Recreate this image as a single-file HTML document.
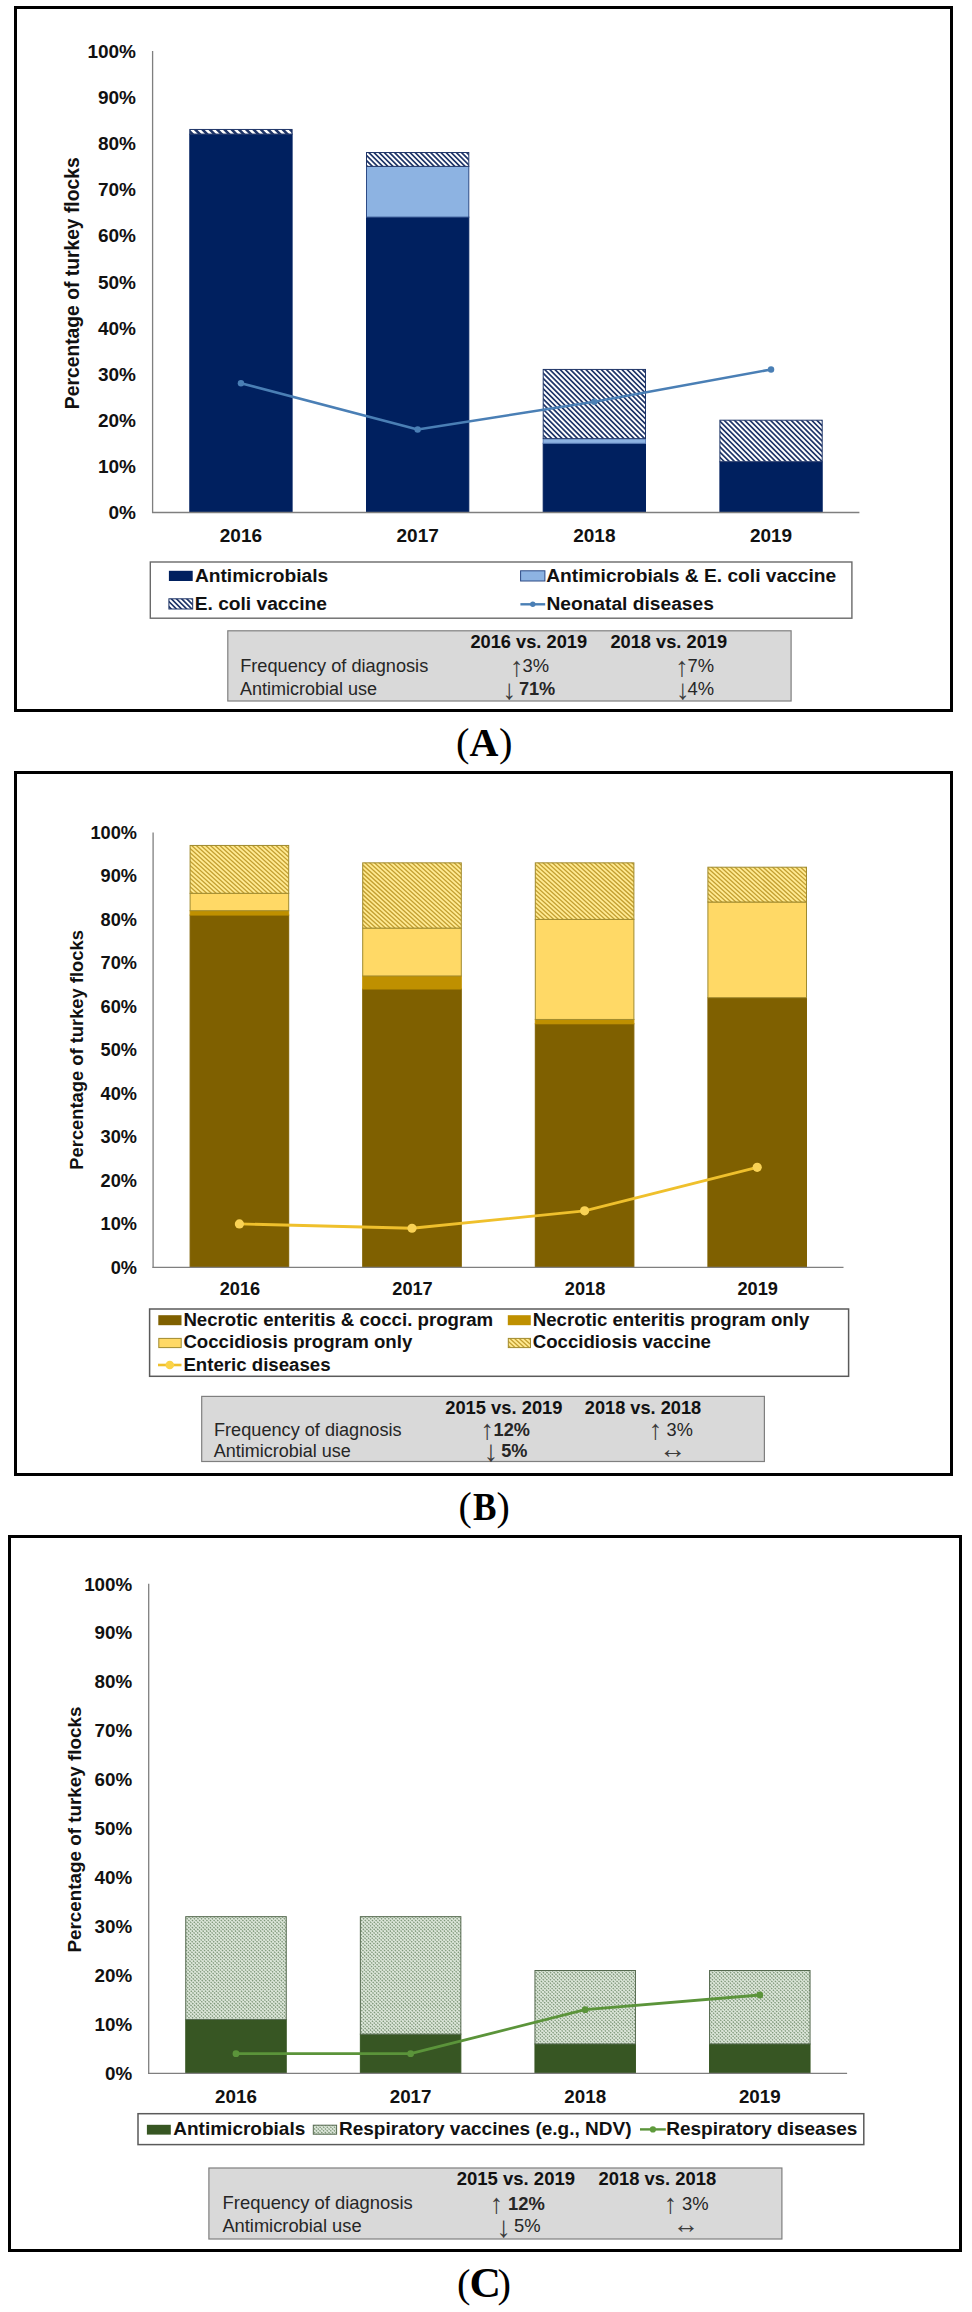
<!DOCTYPE html>
<html lang="en"><head><meta charset="utf-8"><title>Figure</title>
<style>
html,body{margin:0;padding:0;background:#fff;}
body{width:972px;height:2312px;overflow:hidden;}
svg{display:block;}
text{white-space:pre;}
</style></head><body>
<svg width="972" height="2312" viewBox="0 0 972 2312">

<rect width="972" height="2312" fill="#ffffff"/>

<rect x="15.50" y="7.50" width="936.00" height="703.00" fill="#fff" stroke="#000" stroke-width="3" />
<text x="136.00" y="519.30" font-family='"Liberation Sans", Arial, Helvetica, sans-serif' font-size="19" font-weight="bold" text-anchor="end" fill="#111111" >0%</text>
<text x="136.00" y="473.15" font-family='"Liberation Sans", Arial, Helvetica, sans-serif' font-size="19" font-weight="bold" text-anchor="end" fill="#111111" >10%</text>
<text x="136.00" y="427.00" font-family='"Liberation Sans", Arial, Helvetica, sans-serif' font-size="19" font-weight="bold" text-anchor="end" fill="#111111" >20%</text>
<text x="136.00" y="380.85" font-family='"Liberation Sans", Arial, Helvetica, sans-serif' font-size="19" font-weight="bold" text-anchor="end" fill="#111111" >30%</text>
<text x="136.00" y="334.70" font-family='"Liberation Sans", Arial, Helvetica, sans-serif' font-size="19" font-weight="bold" text-anchor="end" fill="#111111" >40%</text>
<text x="136.00" y="288.55" font-family='"Liberation Sans", Arial, Helvetica, sans-serif' font-size="19" font-weight="bold" text-anchor="end" fill="#111111" >50%</text>
<text x="136.00" y="242.40" font-family='"Liberation Sans", Arial, Helvetica, sans-serif' font-size="19" font-weight="bold" text-anchor="end" fill="#111111" >60%</text>
<text x="136.00" y="196.25" font-family='"Liberation Sans", Arial, Helvetica, sans-serif' font-size="19" font-weight="bold" text-anchor="end" fill="#111111" >70%</text>
<text x="136.00" y="150.10" font-family='"Liberation Sans", Arial, Helvetica, sans-serif' font-size="19" font-weight="bold" text-anchor="end" fill="#111111" >80%</text>
<text x="136.00" y="103.95" font-family='"Liberation Sans", Arial, Helvetica, sans-serif' font-size="19" font-weight="bold" text-anchor="end" fill="#111111" >90%</text>
<text x="136.00" y="57.80" font-family='"Liberation Sans", Arial, Helvetica, sans-serif' font-size="19" font-weight="bold" text-anchor="end" fill="#111111" >100%</text>
<text x="0.00" y="0.00" font-family='"Liberation Sans", Arial, Helvetica, sans-serif' font-size="19.3" font-weight="bold" text-anchor="middle" fill="#111111" transform="translate(79.00,283.25) rotate(-90)">Percentage of turkey flocks</text>
<rect x="189.80" y="134.07" width="102.30" height="378.43" fill="#00205f" stroke="#00205f" stroke-width="1" />
<clipPath id="c1"><rect x="189.80" y="129.46" width="102.30" height="4.62"/></clipPath>
<rect x="189.80" y="129.46" width="102.30" height="4.62" fill="#ffffff"/>
<path d="M171.26 127.46L179.87 136.07M178.56 127.46L187.17 136.07M185.86 127.46L194.47 136.07M193.16 127.46L201.77 136.07M200.46 127.46L209.07 136.07M207.76 127.46L216.37 136.07M215.06 127.46L223.67 136.07M222.36 127.46L230.97 136.07M229.66 127.46L238.27 136.07M236.96 127.46L245.57 136.07M244.26 127.46L252.87 136.07M251.56 127.46L260.17 136.07M258.86 127.46L267.47 136.07M266.16 127.46L274.77 136.07M273.46 127.46L282.07 136.07M280.76 127.46L289.37 136.07M288.06 127.46L296.67 136.07M295.36 127.46L303.97 136.07M302.66 127.46L311.27 136.07" stroke="#1f3568" stroke-width="2.58" fill="none" clip-path="url(#c1)"/>
<rect x="189.80" y="129.46" width="102.30" height="4.62" fill="none" stroke="#1f3568" stroke-width="1"/>
<rect x="366.50" y="217.14" width="102.30" height="295.36" fill="#00205f" stroke="#00205f" stroke-width="1" />
<rect x="366.50" y="166.38" width="102.30" height="50.77" fill="#8db3e2" stroke="#2c4a86" stroke-width="1" />
<clipPath id="c2"><rect x="366.50" y="152.53" width="102.30" height="13.84"/></clipPath>
<rect x="366.50" y="152.53" width="102.30" height="13.84" fill="#ffffff"/>
<path d="M341.08 150.53L358.93 168.38M346.23 150.53L364.08 168.38M351.38 150.53L369.23 168.38M356.53 150.53L374.38 168.38M361.68 150.53L379.53 168.38M366.83 150.53L384.68 168.38M371.98 150.53L389.83 168.38M377.13 150.53L394.98 168.38M382.28 150.53L400.13 168.38M387.43 150.53L405.28 168.38M392.58 150.53L410.43 168.38M397.73 150.53L415.58 168.38M402.88 150.53L420.73 168.38M408.03 150.53L425.88 168.38M413.18 150.53L431.03 168.38M418.33 150.53L436.18 168.38M423.48 150.53L441.33 168.38M428.63 150.53L446.48 168.38M433.78 150.53L451.63 168.38M438.93 150.53L456.78 168.38M444.08 150.53L461.93 168.38M449.23 150.53L467.08 168.38M454.38 150.53L472.23 168.38M459.53 150.53L477.38 168.38M464.68 150.53L482.53 168.38M469.83 150.53L487.68 168.38M474.98 150.53L492.83 168.38" stroke="#1f3568" stroke-width="1.71" fill="none" clip-path="url(#c2)"/>
<rect x="366.50" y="152.53" width="102.30" height="13.84" fill="none" stroke="#1f3568" stroke-width="1"/>
<rect x="543.20" y="443.27" width="102.30" height="69.22" fill="#00205f" stroke="#00205f" stroke-width="1" />
<rect x="543.20" y="438.66" width="102.30" height="4.62" fill="#8db3e2" stroke="#5f83bd" stroke-width="1" />
<clipPath id="c3"><rect x="543.20" y="369.44" width="102.30" height="69.22"/></clipPath>
<rect x="543.20" y="369.44" width="102.30" height="69.22" fill="#ffffff"/>
<path d="M465.28 367.44L538.51 440.66M470.44 367.44L543.66 440.66M475.58 367.44L548.81 440.66M480.74 367.44L553.96 440.66M485.88 367.44L559.11 440.66M491.03 367.44L564.26 440.66M496.19 367.44L569.41 440.66M501.33 367.44L574.56 440.66M506.49 367.44L579.71 440.66M511.63 367.44L584.86 440.66M516.78 367.44L590.01 440.66M521.93 367.44L595.16 440.66M527.09 367.44L600.31 440.66M532.24 367.44L605.46 440.66M537.38 367.44L610.61 440.66M542.53 367.44L615.76 440.66M547.68 367.44L620.91 440.66M552.84 367.44L626.06 440.66M557.99 367.44L631.21 440.66M563.13 367.44L636.36 440.66M568.28 367.44L641.51 440.66M573.43 367.44L646.66 440.66M578.59 367.44L651.81 440.66M583.74 367.44L656.96 440.66M588.88 367.44L662.11 440.66M594.03 367.44L667.26 440.66M599.18 367.44L672.41 440.66M604.34 367.44L677.56 440.66M609.49 367.44L682.71 440.66M614.63 367.44L687.86 440.66M619.78 367.44L693.01 440.66M624.94 367.44L698.16 440.66M630.09 367.44L703.31 440.66M635.24 367.44L708.46 440.66M640.38 367.44L713.61 440.66M645.53 367.44L718.76 440.66M650.69 367.44L723.91 440.66" stroke="#1f3568" stroke-width="1.71" fill="none" clip-path="url(#c3)"/>
<rect x="543.20" y="369.44" width="102.30" height="69.22" fill="none" stroke="#1f3568" stroke-width="1"/>
<rect x="719.90" y="461.74" width="102.30" height="50.77" fill="#00205f" stroke="#00205f" stroke-width="1" />
<clipPath id="c4"><rect x="719.90" y="420.20" width="102.30" height="41.53"/></clipPath>
<rect x="719.90" y="420.20" width="102.30" height="41.53" fill="#ffffff"/>
<path d="M670.55 418.20L716.09 463.74M675.70 418.20L721.24 463.74M680.85 418.20L726.38 463.74M686.00 418.20L731.53 463.74M691.15 418.20L736.68 463.74M696.30 418.20L741.84 463.74M701.45 418.20L746.99 463.74M706.60 418.20L752.13 463.74M711.75 418.20L757.28 463.74M716.90 418.20L762.43 463.74M722.05 418.20L767.59 463.74M727.20 418.20L772.74 463.74M732.35 418.20L777.88 463.74M737.50 418.20L783.03 463.74M742.65 418.20L788.18 463.74M747.80 418.20L793.34 463.74M752.95 418.20L798.49 463.74M758.10 418.20L803.63 463.74M763.25 418.20L808.78 463.74M768.40 418.20L813.93 463.74M773.55 418.20L819.09 463.74M778.70 418.20L824.24 463.74M783.85 418.20L829.38 463.74M789.00 418.20L834.53 463.74M794.15 418.20L839.68 463.74M799.30 418.20L844.84 463.74M804.45 418.20L849.99 463.74M809.60 418.20L855.13 463.74M814.75 418.20L860.28 463.74M819.90 418.20L865.43 463.74M825.05 418.20L870.59 463.74M830.20 418.20L875.74 463.74" stroke="#1f3568" stroke-width="1.71" fill="none" clip-path="url(#c4)"/>
<rect x="719.90" y="420.20" width="102.30" height="41.53" fill="none" stroke="#1f3568" stroke-width="1"/>
<line x1="152.60" y1="51.00" x2="152.60" y2="513.10" stroke="#7f7f7f" stroke-width="1.3" />
<line x1="152.00" y1="512.50" x2="859.40" y2="512.50" stroke="#7f7f7f" stroke-width="1.3" />
<text x="240.95" y="542.00" font-family='"Liberation Sans", Arial, Helvetica, sans-serif' font-size="19" font-weight="bold" text-anchor="middle" fill="#111111" >2016</text>
<text x="417.65" y="542.00" font-family='"Liberation Sans", Arial, Helvetica, sans-serif' font-size="19" font-weight="bold" text-anchor="middle" fill="#111111" >2017</text>
<text x="594.35" y="542.00" font-family='"Liberation Sans", Arial, Helvetica, sans-serif' font-size="19" font-weight="bold" text-anchor="middle" fill="#111111" >2018</text>
<text x="771.05" y="542.00" font-family='"Liberation Sans", Arial, Helvetica, sans-serif' font-size="19" font-weight="bold" text-anchor="middle" fill="#111111" >2019</text>
<polyline points="240.95,383.28 417.65,429.43 594.35,401.74 771.05,369.44" fill="none" stroke="#4a7fb5" stroke-width="2.6" stroke-linejoin="round" stroke-linecap="round"/>
<circle cx="240.95" cy="383.28" r="3.2" fill="#4a7fb5"/>
<circle cx="417.65" cy="429.43" r="3.2" fill="#4a7fb5"/>
<circle cx="594.35" cy="401.74" r="3.2" fill="#4a7fb5"/>
<circle cx="771.05" cy="369.44" r="3.2" fill="#4a7fb5"/>
<rect x="150.30" y="562.00" width="701.60" height="56.20" fill="#fff" stroke="#6a6a6a" stroke-width="1.4" />
<rect x="168.90" y="570.80" width="23.80" height="10.20" fill="#00205f" stroke="none" stroke-width="1" />
<text x="194.90" y="582.00" font-family='"Liberation Sans", Arial, Helvetica, sans-serif' font-size="19.2" font-weight="bold" text-anchor="start" fill="#111111" >Antimicrobials</text>
<clipPath id="c5"><rect x="168.90" y="598.80" width="23.80" height="10.20"/></clipPath>
<rect x="168.90" y="598.80" width="23.80" height="10.20" fill="#ffffff"/>
<path d="M148.75 596.80L162.95 611.00M153.90 596.80L168.10 611.00M159.05 596.80L173.25 611.00M164.20 596.80L178.40 611.00M169.35 596.80L183.55 611.00M174.50 596.80L188.70 611.00M179.65 596.80L193.85 611.00M184.80 596.80L199.00 611.00M189.95 596.80L204.15 611.00M195.10 596.80L209.30 611.00M200.25 596.80L214.45 611.00" stroke="#1f3568" stroke-width="1.71" fill="none" clip-path="url(#c5)"/>
<rect x="168.90" y="598.80" width="23.80" height="10.20" fill="none" stroke="#1f3568" stroke-width="1"/>
<text x="194.70" y="610.00" font-family='"Liberation Sans", Arial, Helvetica, sans-serif' font-size="19.2" font-weight="bold" text-anchor="start" fill="#111111" >E. coli vaccine</text>
<rect x="520.60" y="570.80" width="24.30" height="10.20" fill="#8db3e2" stroke="#2c4a86" stroke-width="1" />
<text x="546.20" y="582.00" font-family='"Liberation Sans", Arial, Helvetica, sans-serif' font-size="19.2" font-weight="bold" text-anchor="start" fill="#111111" >Antimicrobials &amp; E. coli vaccine</text>
<line x1="520.40" y1="604.30" x2="545.20" y2="604.30" stroke="#4a7fb5" stroke-width="2.4" />
<circle cx="532.8" cy="604.3" r="2.7" fill="#4a7fb5"/>
<text x="546.40" y="610.00" font-family='"Liberation Sans", Arial, Helvetica, sans-serif' font-size="19.2" font-weight="bold" text-anchor="start" fill="#111111" >Neonatal diseases</text>
<rect x="227.80" y="630.80" width="563.30" height="70.20" fill="#d9d9d9" stroke="#7f7f7f" stroke-width="1.2" />
<text x="470.40" y="648.00" font-family='"Liberation Sans", Arial, Helvetica, sans-serif' font-size="18.25" font-weight="bold" text-anchor="start" fill="#111111" >2016 vs. 2019</text>
<text x="610.40" y="648.00" font-family='"Liberation Sans", Arial, Helvetica, sans-serif' font-size="18.25" font-weight="bold" text-anchor="start" fill="#111111" >2018 vs. 2019</text>
<text x="240.20" y="672.00" font-family='"Liberation Sans", Arial, Helvetica, sans-serif' font-size="18.2" font-weight="normal" text-anchor="start" fill="#262626" >Frequency of diagnosis</text>
<text x="240.00" y="695.00" font-family='"Liberation Sans", Arial, Helvetica, sans-serif' font-size="18.0" font-weight="normal" text-anchor="start" fill="#262626" >Antimicrobial use</text>
<text x="516.80" y="675.70" font-family='"Liberation Sans", Arial, Helvetica, sans-serif' font-size="27.50" text-anchor="middle" fill="#3c3c3c">↑</text>
<text x="522.60" y="672.00" font-family='"Liberation Sans", Arial, Helvetica, sans-serif' font-size="18.4" font-weight="normal" text-anchor="start" fill="#262626" >3%</text>
<text x="509.40" y="699.20" font-family='"Liberation Sans", Arial, Helvetica, sans-serif' font-size="27.86" text-anchor="middle" fill="#3c3c3c">↓</text>
<text x="518.90" y="695.00" font-family='"Liberation Sans", Arial, Helvetica, sans-serif' font-size="18.2" font-weight="bold" text-anchor="start" fill="#262626" >71%</text>
<text x="682.00" y="675.70" font-family='"Liberation Sans", Arial, Helvetica, sans-serif' font-size="27.50" text-anchor="middle" fill="#3c3c3c">↑</text>
<text x="687.60" y="672.00" font-family='"Liberation Sans", Arial, Helvetica, sans-serif' font-size="18.4" font-weight="normal" text-anchor="start" fill="#262626" >7%</text>
<text x="683.00" y="699.20" font-family='"Liberation Sans", Arial, Helvetica, sans-serif' font-size="27.86" text-anchor="middle" fill="#3c3c3c">↓</text>
<text x="687.60" y="695.00" font-family='"Liberation Sans", Arial, Helvetica, sans-serif' font-size="18.4" font-weight="normal" text-anchor="start" fill="#262626" >4%</text>
<text x="456.02" y="756.28" font-family='"Liberation Serif", "Times New Roman", serif' font-size="40.48" fill="#000">(</text>
<text x="498.90" y="756.28" font-family='"Liberation Serif", "Times New Roman", serif' font-size="40.48" fill="#000">)</text>
<text transform="translate(469.61,755.60) scale(0.9781,1)" font-family='"Liberation Serif", "Times New Roman", serif' font-size="40.90" font-weight="bold" fill="#000">A</text>
<rect x="15.50" y="772.50" width="936.00" height="702.00" fill="#fff" stroke="#000" stroke-width="3" />
<text x="137.00" y="1273.92" font-family='"Liberation Sans", Arial, Helvetica, sans-serif' font-size="18.2" font-weight="bold" text-anchor="end" fill="#111111" >0%</text>
<text x="137.00" y="1230.42" font-family='"Liberation Sans", Arial, Helvetica, sans-serif' font-size="18.2" font-weight="bold" text-anchor="end" fill="#111111" >10%</text>
<text x="137.00" y="1186.92" font-family='"Liberation Sans", Arial, Helvetica, sans-serif' font-size="18.2" font-weight="bold" text-anchor="end" fill="#111111" >20%</text>
<text x="137.00" y="1143.42" font-family='"Liberation Sans", Arial, Helvetica, sans-serif' font-size="18.2" font-weight="bold" text-anchor="end" fill="#111111" >30%</text>
<text x="137.00" y="1099.92" font-family='"Liberation Sans", Arial, Helvetica, sans-serif' font-size="18.2" font-weight="bold" text-anchor="end" fill="#111111" >40%</text>
<text x="137.00" y="1056.42" font-family='"Liberation Sans", Arial, Helvetica, sans-serif' font-size="18.2" font-weight="bold" text-anchor="end" fill="#111111" >50%</text>
<text x="137.00" y="1012.92" font-family='"Liberation Sans", Arial, Helvetica, sans-serif' font-size="18.2" font-weight="bold" text-anchor="end" fill="#111111" >60%</text>
<text x="137.00" y="969.42" font-family='"Liberation Sans", Arial, Helvetica, sans-serif' font-size="18.2" font-weight="bold" text-anchor="end" fill="#111111" >70%</text>
<text x="137.00" y="925.92" font-family='"Liberation Sans", Arial, Helvetica, sans-serif' font-size="18.2" font-weight="bold" text-anchor="end" fill="#111111" >80%</text>
<text x="137.00" y="882.42" font-family='"Liberation Sans", Arial, Helvetica, sans-serif' font-size="18.2" font-weight="bold" text-anchor="end" fill="#111111" >90%</text>
<text x="137.00" y="838.92" font-family='"Liberation Sans", Arial, Helvetica, sans-serif' font-size="18.2" font-weight="bold" text-anchor="end" fill="#111111" >100%</text>
<text x="0.00" y="0.00" font-family='"Liberation Sans", Arial, Helvetica, sans-serif' font-size="18.35" font-weight="bold" text-anchor="middle" fill="#111111" transform="translate(83.30,1049.90) rotate(-90)">Percentage of turkey flocks</text>
<rect x="190.10" y="915.05" width="98.60" height="352.35" fill="#7f6000" stroke="#7f6000" stroke-width="1" />
<rect x="190.10" y="910.70" width="98.60" height="4.35" fill="#bf9000" stroke="#bf9000" stroke-width="1" />
<rect x="190.10" y="893.30" width="98.60" height="17.40" fill="#ffd966" stroke="#a08a2e" stroke-width="1" />
<clipPath id="c6"><rect x="190.10" y="845.45" width="98.60" height="47.85"/></clipPath>
<rect x="190.10" y="845.45" width="98.60" height="47.85" fill="#ffea92"/>
<path d="M128.51 843.45L185.60 895.30M133.19 843.45L190.28 895.30M137.87 843.45L194.96 895.30M142.55 843.45L199.64 895.30M147.23 843.45L204.32 895.30M151.91 843.45L209.00 895.30M156.59 843.45L213.68 895.30M161.27 843.45L218.36 895.30M165.95 843.45L223.04 895.30M170.63 843.45L227.72 895.30M175.31 843.45L232.40 895.30M179.99 843.45L237.08 895.30M184.67 843.45L241.76 895.30M189.35 843.45L246.44 895.30M194.03 843.45L251.12 895.30M198.71 843.45L255.80 895.30M203.39 843.45L260.48 895.30M208.07 843.45L265.16 895.30M212.75 843.45L269.84 895.30M217.43 843.45L274.52 895.30M222.11 843.45L279.20 895.30M226.79 843.45L283.88 895.30M231.47 843.45L288.56 895.30M236.15 843.45L293.24 895.30M240.83 843.45L297.92 895.30M245.51 843.45L302.60 895.30M250.19 843.45L307.28 895.30M254.87 843.45L311.96 895.30M259.55 843.45L316.64 895.30M264.23 843.45L321.32 895.30M268.91 843.45L326.00 895.30M273.59 843.45L330.68 895.30M278.27 843.45L335.36 895.30M282.95 843.45L340.04 895.30M287.63 843.45L344.72 895.30M292.31 843.45L349.40 895.30" stroke="#c4a032" stroke-width="1.32" fill="none" clip-path="url(#c6)"/>
<rect x="190.10" y="845.45" width="98.60" height="47.85" fill="none" stroke="#a08a2e" stroke-width="1"/>
<rect x="362.70" y="989.00" width="98.60" height="278.40" fill="#7f6000" stroke="#7f6000" stroke-width="1" />
<rect x="362.70" y="975.95" width="98.60" height="13.05" fill="#bf9000" stroke="#bf9000" stroke-width="1" />
<rect x="362.70" y="928.10" width="98.60" height="47.85" fill="#ffd966" stroke="#a08a2e" stroke-width="1" />
<clipPath id="c7"><rect x="362.70" y="862.85" width="98.60" height="65.25"/></clipPath>
<rect x="362.70" y="862.85" width="98.60" height="65.25" fill="#ffea92"/>
<path d="M283.39 860.85L359.64 930.10M288.07 860.85L364.32 930.10M292.75 860.85L369.00 930.10M297.43 860.85L373.68 930.10M302.11 860.85L378.36 930.10M306.79 860.85L383.04 930.10M311.47 860.85L387.72 930.10M316.15 860.85L392.40 930.10M320.83 860.85L397.08 930.10M325.51 860.85L401.76 930.10M330.19 860.85L406.44 930.10M334.87 860.85L411.12 930.10M339.55 860.85L415.80 930.10M344.23 860.85L420.48 930.10M348.91 860.85L425.16 930.10M353.59 860.85L429.84 930.10M358.27 860.85L434.52 930.10M362.95 860.85L439.20 930.10M367.63 860.85L443.88 930.10M372.31 860.85L448.56 930.10M376.99 860.85L453.24 930.10M381.67 860.85L457.92 930.10M386.35 860.85L462.60 930.10M391.03 860.85L467.28 930.10M395.71 860.85L471.96 930.10M400.39 860.85L476.64 930.10M405.07 860.85L481.32 930.10M409.75 860.85L486.00 930.10M414.43 860.85L490.68 930.10M419.11 860.85L495.36 930.10M423.79 860.85L500.04 930.10M428.47 860.85L504.72 930.10M433.15 860.85L509.40 930.10M437.83 860.85L514.08 930.10M442.51 860.85L518.76 930.10M447.19 860.85L523.44 930.10M451.87 860.85L528.12 930.10M456.55 860.85L532.80 930.10M461.23 860.85L537.48 930.10M465.91 860.85L542.16 930.10" stroke="#c4a032" stroke-width="1.32" fill="none" clip-path="url(#c7)"/>
<rect x="362.70" y="862.85" width="98.60" height="65.25" fill="none" stroke="#a08a2e" stroke-width="1"/>
<rect x="535.30" y="1023.80" width="98.60" height="243.60" fill="#7f6000" stroke="#7f6000" stroke-width="1" />
<rect x="535.30" y="1019.45" width="98.60" height="4.35" fill="#bf9000" stroke="#bf9000" stroke-width="1" />
<rect x="535.30" y="919.40" width="98.60" height="100.05" fill="#ffd966" stroke="#a08a2e" stroke-width="1" />
<clipPath id="c8"><rect x="535.30" y="862.85" width="98.60" height="56.55"/></clipPath>
<rect x="535.30" y="862.85" width="98.60" height="56.55" fill="#ffea92"/>
<path d="M465.91 860.85L532.58 921.40M470.59 860.85L537.26 921.40M475.27 860.85L541.94 921.40M479.95 860.85L546.62 921.40M484.63 860.85L551.30 921.40M489.31 860.85L555.98 921.40M493.99 860.85L560.66 921.40M498.67 860.85L565.34 921.40M503.35 860.85L570.02 921.40M508.03 860.85L574.70 921.40M512.71 860.85L579.38 921.40M517.39 860.85L584.06 921.40M522.07 860.85L588.74 921.40M526.75 860.85L593.42 921.40M531.43 860.85L598.10 921.40M536.11 860.85L602.78 921.40M540.79 860.85L607.46 921.40M545.47 860.85L612.14 921.40M550.15 860.85L616.82 921.40M554.83 860.85L621.50 921.40M559.51 860.85L626.18 921.40M564.19 860.85L630.86 921.40M568.87 860.85L635.54 921.40M573.55 860.85L640.22 921.40M578.23 860.85L644.90 921.40M582.91 860.85L649.58 921.40M587.59 860.85L654.26 921.40M592.27 860.85L658.94 921.40M596.95 860.85L663.62 921.40M601.63 860.85L668.30 921.40M606.31 860.85L672.98 921.40M610.99 860.85L677.66 921.40M615.67 860.85L682.34 921.40M620.35 860.85L687.02 921.40M625.03 860.85L691.70 921.40M629.71 860.85L696.38 921.40M634.39 860.85L701.06 921.40M639.07 860.85L705.74 921.40" stroke="#c4a032" stroke-width="1.32" fill="none" clip-path="url(#c8)"/>
<rect x="535.30" y="862.85" width="98.60" height="56.55" fill="none" stroke="#a08a2e" stroke-width="1"/>
<rect x="707.90" y="997.70" width="98.60" height="269.70" fill="#7f6000" stroke="#7f6000" stroke-width="1" />
<rect x="707.90" y="902.00" width="98.60" height="95.70" fill="#ffd966" stroke="#a08a2e" stroke-width="1" />
<clipPath id="c9"><rect x="707.90" y="867.20" width="98.60" height="34.80"/></clipPath>
<rect x="707.90" y="867.20" width="98.60" height="34.80" fill="#ffea92"/>
<path d="M662.58 865.20L705.30 904.00M667.26 865.20L709.98 904.00M671.94 865.20L714.66 904.00M676.62 865.20L719.34 904.00M681.30 865.20L724.02 904.00M685.98 865.20L728.70 904.00M690.66 865.20L733.38 904.00M695.34 865.20L738.06 904.00M700.02 865.20L742.74 904.00M704.70 865.20L747.42 904.00M709.38 865.20L752.10 904.00M714.06 865.20L756.78 904.00M718.74 865.20L761.46 904.00M723.42 865.20L766.14 904.00M728.10 865.20L770.82 904.00M732.78 865.20L775.50 904.00M737.46 865.20L780.18 904.00M742.14 865.20L784.86 904.00M746.82 865.20L789.54 904.00M751.50 865.20L794.22 904.00M756.18 865.20L798.90 904.00M760.86 865.20L803.58 904.00M765.54 865.20L808.26 904.00M770.22 865.20L812.94 904.00M774.90 865.20L817.62 904.00M779.58 865.20L822.30 904.00M784.26 865.20L826.98 904.00M788.94 865.20L831.66 904.00M793.62 865.20L836.34 904.00M798.30 865.20L841.02 904.00M802.98 865.20L845.70 904.00M807.66 865.20L850.38 904.00M812.34 865.20L855.06 904.00" stroke="#c4a032" stroke-width="1.32" fill="none" clip-path="url(#c9)"/>
<rect x="707.90" y="867.20" width="98.60" height="34.80" fill="none" stroke="#a08a2e" stroke-width="1"/>
<line x1="153.10" y1="832.40" x2="153.10" y2="1268.00" stroke="#7f7f7f" stroke-width="1.3" />
<line x1="152.50" y1="1267.40" x2="843.50" y2="1267.40" stroke="#7f7f7f" stroke-width="1.3" />
<text x="239.90" y="1295.00" font-family='"Liberation Sans", Arial, Helvetica, sans-serif' font-size="18.2" font-weight="bold" text-anchor="middle" fill="#111111" >2016</text>
<text x="412.50" y="1295.00" font-family='"Liberation Sans", Arial, Helvetica, sans-serif' font-size="18.2" font-weight="bold" text-anchor="middle" fill="#111111" >2017</text>
<text x="585.10" y="1295.00" font-family='"Liberation Sans", Arial, Helvetica, sans-serif' font-size="18.2" font-weight="bold" text-anchor="middle" fill="#111111" >2018</text>
<text x="757.70" y="1295.00" font-family='"Liberation Sans", Arial, Helvetica, sans-serif' font-size="18.2" font-weight="bold" text-anchor="middle" fill="#111111" >2019</text>
<polyline points="239.40,1223.90 412.00,1228.25 584.60,1210.85 757.20,1167.35" fill="none" stroke="#efc02c" stroke-width="2.8" stroke-linejoin="round" stroke-linecap="round"/>
<circle cx="239.40" cy="1223.90" r="4.6" fill="#f9d255"/>
<circle cx="412.00" cy="1228.25" r="4.6" fill="#f9d255"/>
<circle cx="584.60" cy="1210.85" r="4.6" fill="#f9d255"/>
<circle cx="757.20" cy="1167.35" r="4.6" fill="#f9d255"/>
<rect x="149.60" y="1309.00" width="699.00" height="67.30" fill="#fff" stroke="#5a5a5a" stroke-width="1.5" />
<rect x="158.30" y="1315.20" width="23.20" height="10.00" fill="#7f6000" stroke="none" stroke-width="1" />
<text x="183.40" y="1326.00" font-family='"Liberation Sans", Arial, Helvetica, sans-serif' font-size="18.65" font-weight="bold" text-anchor="start" fill="#111111" >Necrotic enteritis &amp; cocci. program</text>
<rect x="158.80" y="1338.40" width="22.40" height="9.20" fill="#ffd966" stroke="#a08a2e" stroke-width="1" />
<text x="183.40" y="1348.00" font-family='"Liberation Sans", Arial, Helvetica, sans-serif' font-size="18.65" font-weight="bold" text-anchor="start" fill="#111111" >Coccidiosis program only</text>
<line x1="158.00" y1="1365.00" x2="181.50" y2="1365.00" stroke="#efc02c" stroke-width="2.6" />
<circle cx="169.8" cy="1365" r="4.3" fill="#fbd348"/>
<text x="183.40" y="1371.00" font-family='"Liberation Sans", Arial, Helvetica, sans-serif' font-size="18.65" font-weight="bold" text-anchor="start" fill="#111111" >Enteric diseases</text>
<rect x="507.80" y="1315.20" width="23.00" height="10.00" fill="#bf9000" stroke="none" stroke-width="1" />
<text x="532.70" y="1326.00" font-family='"Liberation Sans", Arial, Helvetica, sans-serif' font-size="18.65" font-weight="bold" text-anchor="start" fill="#111111" >Necrotic enteritis program only</text>
<clipPath id="c10"><rect x="508.30" y="1338.40" width="22.20" height="9.20"/></clipPath>
<rect x="508.30" y="1338.40" width="22.20" height="9.20" fill="#ffea92"/>
<path d="M488.81 1336.40L503.35 1349.60M493.49 1336.40L508.03 1349.60M498.17 1336.40L512.71 1349.60M502.85 1336.40L517.39 1349.60M507.53 1336.40L522.07 1349.60M512.21 1336.40L526.75 1349.60M516.89 1336.40L531.43 1349.60M521.57 1336.40L536.11 1349.60M526.25 1336.40L540.79 1349.60M530.93 1336.40L545.47 1349.60M535.61 1336.40L550.15 1349.60" stroke="#c4a032" stroke-width="1.32" fill="none" clip-path="url(#c10)"/>
<rect x="508.30" y="1338.40" width="22.20" height="9.20" fill="none" stroke="#a08a2e" stroke-width="1"/>
<text x="532.70" y="1348.00" font-family='"Liberation Sans", Arial, Helvetica, sans-serif' font-size="18.65" font-weight="bold" text-anchor="start" fill="#111111" >Coccidiosis vaccine</text>
<rect x="201.70" y="1396.40" width="562.70" height="65.10" fill="#d9d9d9" stroke="#7f7f7f" stroke-width="1.2" />
<text x="445.20" y="1414.00" font-family='"Liberation Sans", Arial, Helvetica, sans-serif' font-size="18.35" font-weight="bold" text-anchor="start" fill="#111111" >2015 vs. 2019</text>
<text x="584.80" y="1414.00" font-family='"Liberation Sans", Arial, Helvetica, sans-serif' font-size="18.2" font-weight="bold" text-anchor="start" fill="#111111" >2018 vs. 2018</text>
<text x="214.00" y="1436.00" font-family='"Liberation Sans", Arial, Helvetica, sans-serif' font-size="18.15" font-weight="normal" text-anchor="start" fill="#262626" >Frequency of diagnosis</text>
<text x="213.80" y="1457.00" font-family='"Liberation Sans", Arial, Helvetica, sans-serif' font-size="18.0" font-weight="normal" text-anchor="start" fill="#262626" >Antimicrobial use</text>
<text x="487.30" y="1439.00" font-family='"Liberation Sans", Arial, Helvetica, sans-serif' font-size="27.50" text-anchor="middle" fill="#3c3c3c">↑</text>
<text x="493.60" y="1436.00" font-family='"Liberation Sans", Arial, Helvetica, sans-serif' font-size="18.2" font-weight="bold" text-anchor="start" fill="#262626" >12%</text>
<text x="491.00" y="1460.70" font-family='"Liberation Sans", Arial, Helvetica, sans-serif' font-size="29.64" text-anchor="middle" fill="#3c3c3c">↓</text>
<text x="501.20" y="1457.00" font-family='"Liberation Sans", Arial, Helvetica, sans-serif' font-size="18.2" font-weight="bold" text-anchor="start" fill="#262626" >5%</text>
<text x="655.70" y="1439.00" font-family='"Liberation Sans", Arial, Helvetica, sans-serif' font-size="27.50" text-anchor="middle" fill="#3c3c3c">↑</text>
<text x="666.60" y="1436.00" font-family='"Liberation Sans", Arial, Helvetica, sans-serif' font-size="18.2" font-weight="normal" text-anchor="start" fill="#262626" >3%</text>
<text x="672.40" y="1457.64" font-family='"Liberation Sans", Arial, Helvetica, sans-serif' font-size="27.05" text-anchor="middle" fill="#3c3c3c">↔</text>
<text x="458.45" y="1520.40" font-family='"Liberation Serif", "Times New Roman", serif' font-size="39.93" fill="#000">(</text>
<text x="496.46" y="1520.40" font-family='"Liberation Serif", "Times New Roman", serif' font-size="39.93" fill="#000">)</text>
<text transform="translate(473.02,1519.98) scale(0.8600,1)" font-family='"Liberation Serif", "Times New Roman", serif' font-size="40.90" font-weight="bold" fill="#000">B</text>
<rect x="9.50" y="1536.50" width="951.00" height="714.00" fill="#fff" stroke="#000" stroke-width="3" />
<text x="132.20" y="2080.03" font-family='"Liberation Sans", Arial, Helvetica, sans-serif' font-size="18.8" font-weight="bold" text-anchor="end" fill="#111111" >0%</text>
<text x="132.20" y="2031.08" font-family='"Liberation Sans", Arial, Helvetica, sans-serif' font-size="18.8" font-weight="bold" text-anchor="end" fill="#111111" >10%</text>
<text x="132.20" y="1982.13" font-family='"Liberation Sans", Arial, Helvetica, sans-serif' font-size="18.8" font-weight="bold" text-anchor="end" fill="#111111" >20%</text>
<text x="132.20" y="1933.18" font-family='"Liberation Sans", Arial, Helvetica, sans-serif' font-size="18.8" font-weight="bold" text-anchor="end" fill="#111111" >30%</text>
<text x="132.20" y="1884.23" font-family='"Liberation Sans", Arial, Helvetica, sans-serif' font-size="18.8" font-weight="bold" text-anchor="end" fill="#111111" >40%</text>
<text x="132.20" y="1835.28" font-family='"Liberation Sans", Arial, Helvetica, sans-serif' font-size="18.8" font-weight="bold" text-anchor="end" fill="#111111" >50%</text>
<text x="132.20" y="1786.33" font-family='"Liberation Sans", Arial, Helvetica, sans-serif' font-size="18.8" font-weight="bold" text-anchor="end" fill="#111111" >60%</text>
<text x="132.20" y="1737.38" font-family='"Liberation Sans", Arial, Helvetica, sans-serif' font-size="18.8" font-weight="bold" text-anchor="end" fill="#111111" >70%</text>
<text x="132.20" y="1688.43" font-family='"Liberation Sans", Arial, Helvetica, sans-serif' font-size="18.8" font-weight="bold" text-anchor="end" fill="#111111" >80%</text>
<text x="132.20" y="1639.48" font-family='"Liberation Sans", Arial, Helvetica, sans-serif' font-size="18.8" font-weight="bold" text-anchor="end" fill="#111111" >90%</text>
<text x="132.20" y="1590.53" font-family='"Liberation Sans", Arial, Helvetica, sans-serif' font-size="18.8" font-weight="bold" text-anchor="end" fill="#111111" >100%</text>
<text x="0.00" y="0.00" font-family='"Liberation Sans", Arial, Helvetica, sans-serif' font-size="18.85" font-weight="bold" text-anchor="middle" fill="#111111" transform="translate(80.80,1829.55) rotate(-90)">Percentage of turkey flocks</text>
<rect x="185.75" y="2019.46" width="100.50" height="53.85" fill="#375623" stroke="#375623" stroke-width="1" />
<clipPath id="c11"><rect x="185.75" y="1916.66" width="100.50" height="102.80"/></clipPath>
<rect x="185.75" y="1916.66" width="100.50" height="102.80" fill="#dfe8dc"/>
<path d="M75.06 1914.66L181.86 2021.46M78.66 1914.66L185.46 2021.46M82.26 1914.66L189.06 2021.46M85.86 1914.66L192.66 2021.46M89.46 1914.66L196.26 2021.46M93.06 1914.66L199.86 2021.46M96.66 1914.66L203.46 2021.46M100.26 1914.66L207.06 2021.46M103.86 1914.66L210.66 2021.46M107.46 1914.66L214.26 2021.46M111.06 1914.66L217.86 2021.46M114.66 1914.66L221.46 2021.46M118.26 1914.66L225.06 2021.46M121.86 1914.66L228.66 2021.46M125.46 1914.66L232.26 2021.46M129.06 1914.66L235.86 2021.46M132.66 1914.66L239.46 2021.46M136.26 1914.66L243.06 2021.46M139.86 1914.66L246.66 2021.46M143.46 1914.66L250.26 2021.46M147.06 1914.66L253.86 2021.46M150.66 1914.66L257.46 2021.46M154.26 1914.66L261.06 2021.46M157.86 1914.66L264.66 2021.46M161.46 1914.66L268.26 2021.46M165.06 1914.66L271.86 2021.46M168.66 1914.66L275.46 2021.46M172.26 1914.66L279.06 2021.46M175.86 1914.66L282.66 2021.46M179.46 1914.66L286.26 2021.46M183.06 1914.66L289.86 2021.46M186.66 1914.66L293.46 2021.46M190.26 1914.66L297.06 2021.46M193.86 1914.66L300.66 2021.46M197.46 1914.66L304.26 2021.46M201.06 1914.66L307.86 2021.46M204.66 1914.66L311.46 2021.46M208.26 1914.66L315.06 2021.46M211.86 1914.66L318.66 2021.46M215.46 1914.66L322.26 2021.46M219.06 1914.66L325.86 2021.46M222.66 1914.66L329.46 2021.46M226.26 1914.66L333.06 2021.46M229.86 1914.66L336.66 2021.46M233.46 1914.66L340.26 2021.46M237.06 1914.66L343.86 2021.46M240.66 1914.66L347.46 2021.46M244.26 1914.66L351.06 2021.46M247.86 1914.66L354.66 2021.46M251.46 1914.66L358.26 2021.46M255.06 1914.66L361.86 2021.46M258.66 1914.66L365.46 2021.46M262.26 1914.66L369.06 2021.46M265.86 1914.66L372.66 2021.46M269.46 1914.66L376.26 2021.46M273.06 1914.66L379.86 2021.46M276.66 1914.66L383.46 2021.46M280.26 1914.66L387.06 2021.46M283.86 1914.66L390.66 2021.46M287.46 1914.66L394.26 2021.46M291.06 1914.66L397.86 2021.46" stroke="#7f987a" stroke-width="1.30" stroke-dasharray="1.6 0.9" fill="none" clip-path="url(#c11)"/>
<rect x="185.75" y="1916.66" width="100.50" height="102.80" fill="none" stroke="#55694f" stroke-width="1"/>
<rect x="360.35" y="2034.14" width="100.50" height="39.16" fill="#375623" stroke="#375623" stroke-width="1" />
<clipPath id="c12"><rect x="360.35" y="1916.66" width="100.50" height="117.48"/></clipPath>
<rect x="360.35" y="1916.66" width="100.50" height="117.48" fill="#dfe8dc"/>
<path d="M237.06 1914.66L358.54 2036.14M240.66 1914.66L362.14 2036.14M244.26 1914.66L365.74 2036.14M247.86 1914.66L369.34 2036.14M251.46 1914.66L372.94 2036.14M255.06 1914.66L376.54 2036.14M258.66 1914.66L380.14 2036.14M262.26 1914.66L383.74 2036.14M265.86 1914.66L387.34 2036.14M269.46 1914.66L390.94 2036.14M273.06 1914.66L394.54 2036.14M276.66 1914.66L398.14 2036.14M280.26 1914.66L401.74 2036.14M283.86 1914.66L405.34 2036.14M287.46 1914.66L408.94 2036.14M291.06 1914.66L412.54 2036.14M294.66 1914.66L416.14 2036.14M298.26 1914.66L419.74 2036.14M301.86 1914.66L423.34 2036.14M305.46 1914.66L426.94 2036.14M309.06 1914.66L430.54 2036.14M312.66 1914.66L434.14 2036.14M316.26 1914.66L437.74 2036.14M319.86 1914.66L441.34 2036.14M323.46 1914.66L444.94 2036.14M327.06 1914.66L448.54 2036.14M330.66 1914.66L452.14 2036.14M334.26 1914.66L455.74 2036.14M337.86 1914.66L459.34 2036.14M341.46 1914.66L462.94 2036.14M345.06 1914.66L466.54 2036.14M348.66 1914.66L470.14 2036.14M352.26 1914.66L473.74 2036.14M355.86 1914.66L477.34 2036.14M359.46 1914.66L480.94 2036.14M363.06 1914.66L484.54 2036.14M366.66 1914.66L488.14 2036.14M370.26 1914.66L491.74 2036.14M373.86 1914.66L495.34 2036.14M377.46 1914.66L498.94 2036.14M381.06 1914.66L502.54 2036.14M384.66 1914.66L506.14 2036.14M388.26 1914.66L509.74 2036.14M391.86 1914.66L513.34 2036.14M395.46 1914.66L516.94 2036.14M399.06 1914.66L520.54 2036.14M402.66 1914.66L524.14 2036.14M406.26 1914.66L527.74 2036.14M409.86 1914.66L531.34 2036.14M413.46 1914.66L534.94 2036.14M417.06 1914.66L538.54 2036.14M420.66 1914.66L542.14 2036.14M424.26 1914.66L545.74 2036.14M427.86 1914.66L549.34 2036.14M431.46 1914.66L552.94 2036.14M435.06 1914.66L556.54 2036.14M438.66 1914.66L560.14 2036.14M442.26 1914.66L563.74 2036.14M445.86 1914.66L567.34 2036.14M449.46 1914.66L570.94 2036.14M453.06 1914.66L574.54 2036.14M456.66 1914.66L578.14 2036.14M460.26 1914.66L581.74 2036.14M463.86 1914.66L585.34 2036.14" stroke="#7f987a" stroke-width="1.30" stroke-dasharray="1.6 0.9" fill="none" clip-path="url(#c12)"/>
<rect x="360.35" y="1916.66" width="100.50" height="117.48" fill="none" stroke="#55694f" stroke-width="1"/>
<rect x="534.95" y="2043.93" width="100.50" height="29.37" fill="#375623" stroke="#375623" stroke-width="1" />
<clipPath id="c13"><rect x="534.95" y="1970.51" width="100.50" height="73.42"/></clipPath>
<rect x="534.95" y="1970.51" width="100.50" height="73.42" fill="#dfe8dc"/>
<path d="M452.90 1968.51L530.33 2045.93M456.50 1968.51L533.93 2045.93M460.10 1968.51L537.53 2045.93M463.70 1968.51L541.13 2045.93M467.30 1968.51L544.73 2045.93M470.90 1968.51L548.33 2045.93M474.50 1968.51L551.93 2045.93M478.10 1968.51L555.53 2045.93M481.70 1968.51L559.13 2045.93M485.30 1968.51L562.73 2045.93M488.90 1968.51L566.33 2045.93M492.50 1968.51L569.93 2045.93M496.10 1968.51L573.53 2045.93M499.70 1968.51L577.13 2045.93M503.30 1968.51L580.73 2045.93M506.90 1968.51L584.33 2045.93M510.50 1968.51L587.93 2045.93M514.10 1968.51L591.53 2045.93M517.70 1968.51L595.13 2045.93M521.30 1968.51L598.73 2045.93M524.90 1968.51L602.33 2045.93M528.50 1968.51L605.93 2045.93M532.10 1968.51L609.53 2045.93M535.70 1968.51L613.13 2045.93M539.30 1968.51L616.73 2045.93M542.90 1968.51L620.33 2045.93M546.50 1968.51L623.93 2045.93M550.10 1968.51L627.53 2045.93M553.70 1968.51L631.13 2045.93M557.30 1968.51L634.73 2045.93M560.90 1968.51L638.33 2045.93M564.50 1968.51L641.93 2045.93M568.10 1968.51L645.53 2045.93M571.70 1968.51L649.13 2045.93M575.30 1968.51L652.73 2045.93M578.90 1968.51L656.33 2045.93M582.50 1968.51L659.93 2045.93M586.10 1968.51L663.53 2045.93M589.70 1968.51L667.13 2045.93M593.30 1968.51L670.73 2045.93M596.90 1968.51L674.33 2045.93M600.50 1968.51L677.93 2045.93M604.10 1968.51L681.53 2045.93M607.70 1968.51L685.13 2045.93M611.30 1968.51L688.73 2045.93M614.90 1968.51L692.33 2045.93M618.50 1968.51L695.93 2045.93M622.10 1968.51L699.53 2045.93M625.70 1968.51L703.13 2045.93M629.30 1968.51L706.73 2045.93M632.90 1968.51L710.33 2045.93M636.50 1968.51L713.93 2045.93M640.10 1968.51L717.53 2045.93" stroke="#7f987a" stroke-width="1.30" stroke-dasharray="1.6 0.9" fill="none" clip-path="url(#c13)"/>
<rect x="534.95" y="1970.51" width="100.50" height="73.42" fill="none" stroke="#55694f" stroke-width="1"/>
<rect x="709.55" y="2043.93" width="100.50" height="29.37" fill="#375623" stroke="#375623" stroke-width="1" />
<clipPath id="c14"><rect x="709.55" y="1970.51" width="100.50" height="73.42"/></clipPath>
<rect x="709.55" y="1970.51" width="100.50" height="73.42" fill="#dfe8dc"/>
<path d="M629.30 1968.51L706.73 2045.93M632.90 1968.51L710.33 2045.93M636.50 1968.51L713.93 2045.93M640.10 1968.51L717.53 2045.93M643.70 1968.51L721.13 2045.93M647.30 1968.51L724.73 2045.93M650.90 1968.51L728.33 2045.93M654.50 1968.51L731.93 2045.93M658.10 1968.51L735.53 2045.93M661.70 1968.51L739.13 2045.93M665.30 1968.51L742.73 2045.93M668.90 1968.51L746.33 2045.93M672.50 1968.51L749.93 2045.93M676.10 1968.51L753.53 2045.93M679.70 1968.51L757.13 2045.93M683.30 1968.51L760.73 2045.93M686.90 1968.51L764.33 2045.93M690.50 1968.51L767.93 2045.93M694.10 1968.51L771.53 2045.93M697.70 1968.51L775.13 2045.93M701.30 1968.51L778.73 2045.93M704.90 1968.51L782.33 2045.93M708.50 1968.51L785.93 2045.93M712.10 1968.51L789.53 2045.93M715.70 1968.51L793.13 2045.93M719.30 1968.51L796.73 2045.93M722.90 1968.51L800.33 2045.93M726.50 1968.51L803.93 2045.93M730.10 1968.51L807.53 2045.93M733.70 1968.51L811.13 2045.93M737.30 1968.51L814.73 2045.93M740.90 1968.51L818.33 2045.93M744.50 1968.51L821.93 2045.93M748.10 1968.51L825.53 2045.93M751.70 1968.51L829.13 2045.93M755.30 1968.51L832.73 2045.93M758.90 1968.51L836.33 2045.93M762.50 1968.51L839.93 2045.93M766.10 1968.51L843.53 2045.93M769.70 1968.51L847.13 2045.93M773.30 1968.51L850.73 2045.93M776.90 1968.51L854.33 2045.93M780.50 1968.51L857.93 2045.93M784.10 1968.51L861.53 2045.93M787.70 1968.51L865.13 2045.93M791.30 1968.51L868.73 2045.93M794.90 1968.51L872.33 2045.93M798.50 1968.51L875.93 2045.93M802.10 1968.51L879.53 2045.93M805.70 1968.51L883.13 2045.93M809.30 1968.51L886.73 2045.93M812.90 1968.51L890.33 2045.93" stroke="#7f987a" stroke-width="1.30" stroke-dasharray="1.6 0.9" fill="none" clip-path="url(#c14)"/>
<rect x="709.55" y="1970.51" width="100.50" height="73.42" fill="none" stroke="#55694f" stroke-width="1"/>
<line x1="148.70" y1="1583.80" x2="148.70" y2="2073.90" stroke="#7f7f7f" stroke-width="1.3" />
<line x1="148.10" y1="2073.30" x2="847.10" y2="2073.30" stroke="#7f7f7f" stroke-width="1.3" />
<text x="236.00" y="2103.00" font-family='"Liberation Sans", Arial, Helvetica, sans-serif' font-size="18.8" font-weight="bold" text-anchor="middle" fill="#111111" >2016</text>
<text x="410.60" y="2103.00" font-family='"Liberation Sans", Arial, Helvetica, sans-serif' font-size="18.8" font-weight="bold" text-anchor="middle" fill="#111111" >2017</text>
<text x="585.20" y="2103.00" font-family='"Liberation Sans", Arial, Helvetica, sans-serif' font-size="18.8" font-weight="bold" text-anchor="middle" fill="#111111" >2018</text>
<text x="759.80" y="2103.00" font-family='"Liberation Sans", Arial, Helvetica, sans-serif' font-size="18.8" font-weight="bold" text-anchor="middle" fill="#111111" >2019</text>
<polyline points="236.00,2053.72 410.60,2053.72 585.20,2009.67 759.80,1994.98" fill="none" stroke="#5b943a" stroke-width="2.8" stroke-linejoin="round" stroke-linecap="round"/>
<circle cx="236.00" cy="2053.72" r="3.4" fill="#5b943a"/>
<circle cx="410.60" cy="2053.72" r="3.4" fill="#5b943a"/>
<circle cx="585.20" cy="2009.67" r="3.4" fill="#5b943a"/>
<circle cx="759.80" cy="1994.98" r="3.4" fill="#5b943a"/>
<rect x="138.00" y="2113.70" width="725.80" height="30.90" fill="#fff" stroke="#5a5a5a" stroke-width="1.5" />
<rect x="146.90" y="2124.80" width="23.90" height="9.80" fill="#375623" stroke="none" stroke-width="1" />
<text x="173.30" y="2135.00" font-family='"Liberation Sans", Arial, Helvetica, sans-serif' font-size="19" font-weight="bold" text-anchor="start" fill="#111111" >Antimicrobials</text>
<clipPath id="c15"><rect x="313.30" y="2125.20" width="23.30" height="9.00"/></clipPath>
<rect x="313.30" y="2125.20" width="23.30" height="9.00" fill="#dfe8dc"/>
<path d="M298.00 2123.20L311.00 2136.20M301.60 2123.20L314.60 2136.20M305.20 2123.20L318.20 2136.20M308.80 2123.20L321.80 2136.20M312.40 2123.20L325.40 2136.20M316.00 2123.20L329.00 2136.20M319.60 2123.20L332.60 2136.20M323.20 2123.20L336.20 2136.20M326.80 2123.20L339.80 2136.20M330.40 2123.20L343.40 2136.20M334.00 2123.20L347.00 2136.20M337.60 2123.20L350.60 2136.20M341.20 2123.20L354.20 2136.20" stroke="#7f987a" stroke-width="1.30" stroke-dasharray="1.6 0.9" fill="none" clip-path="url(#c15)"/>
<rect x="313.30" y="2125.20" width="23.30" height="9.00" fill="none" stroke="#55694f" stroke-width="1"/>
<text x="339.00" y="2135.00" font-family='"Liberation Sans", Arial, Helvetica, sans-serif' font-size="19" font-weight="bold" text-anchor="start" fill="#111111" >Respiratory vaccines (e.g., NDV)</text>
<line x1="640.00" y1="2129.40" x2="665.80" y2="2129.40" stroke="#5b943a" stroke-width="2.4" />
<circle cx="652.9" cy="2129.4" r="3.1" fill="#5f9b3c"/>
<text x="666.20" y="2135.00" font-family='"Liberation Sans", Arial, Helvetica, sans-serif' font-size="19" font-weight="bold" text-anchor="start" fill="#111111" >Respiratory diseases</text>
<rect x="208.90" y="2168.00" width="573.00" height="71.00" fill="#d9d9d9" stroke="#7f7f7f" stroke-width="1.2" />
<text x="456.70" y="2185.00" font-family='"Liberation Sans", Arial, Helvetica, sans-serif' font-size="18.5" font-weight="bold" text-anchor="start" fill="#111111" >2015 vs. 2019</text>
<text x="598.50" y="2185.00" font-family='"Liberation Sans", Arial, Helvetica, sans-serif' font-size="18.4" font-weight="bold" text-anchor="start" fill="#111111" >2018 vs. 2018</text>
<text x="222.60" y="2209.00" font-family='"Liberation Sans", Arial, Helvetica, sans-serif' font-size="18.4" font-weight="normal" text-anchor="start" fill="#262626" >Frequency of diagnosis</text>
<text x="222.40" y="2232.00" font-family='"Liberation Sans", Arial, Helvetica, sans-serif' font-size="18.3" font-weight="normal" text-anchor="start" fill="#262626" >Antimicrobial use</text>
<text x="496.50" y="2212.70" font-family='"Liberation Sans", Arial, Helvetica, sans-serif' font-size="27.32" text-anchor="middle" fill="#3c3c3c">↑</text>
<text x="508.00" y="2210.00" font-family='"Liberation Sans", Arial, Helvetica, sans-serif' font-size="18.4" font-weight="bold" text-anchor="start" fill="#262626" >12%</text>
<text x="503.50" y="2236.60" font-family='"Liberation Sans", Arial, Helvetica, sans-serif' font-size="29.46" text-anchor="middle" fill="#3c3c3c">↓</text>
<text x="514.00" y="2232.00" font-family='"Liberation Sans", Arial, Helvetica, sans-serif' font-size="18.4" font-weight="normal" text-anchor="start" fill="#262626" >5%</text>
<text x="670.60" y="2212.70" font-family='"Liberation Sans", Arial, Helvetica, sans-serif' font-size="27.32" text-anchor="middle" fill="#3c3c3c">↑</text>
<text x="682.00" y="2210.00" font-family='"Liberation Sans", Arial, Helvetica, sans-serif' font-size="18.4" font-weight="normal" text-anchor="start" fill="#262626" >3%</text>
<text x="685.90" y="2233.02" font-family='"Liberation Sans", Arial, Helvetica, sans-serif' font-size="26.43" text-anchor="middle" fill="#3c3c3c">↔</text>
<text x="457.02" y="2296.78" font-family='"Liberation Serif", "Times New Roman", serif' font-size="40.48" fill="#000">(</text>
<text x="497.60" y="2296.78" font-family='"Liberation Serif", "Times New Roman", serif' font-size="40.48" fill="#000">)</text>
<text transform="translate(469.38,2296.79) scale(1.0336,1)" font-family='"Liberation Serif", "Times New Roman", serif' font-size="42.12" font-weight="bold" fill="#000">C</text>
</svg></body></html>
